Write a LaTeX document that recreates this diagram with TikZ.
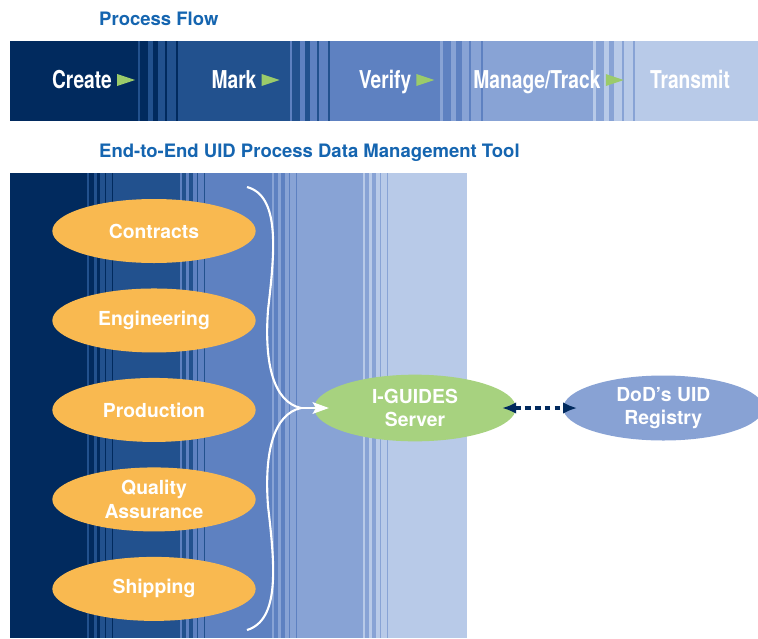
\documentclass[tikz,border=0pt]{standalone}
\usepackage{fontspec}
\setmainfont{TeX Gyre Heros}
\newfontfamily\condfont[FakeStretch=0.78]{TeX Gyre Heros}
\usepackage{tikz}
\usetikzlibrary{arrows, arrows.meta}
\usetikzlibrary{shapes.geometric, positioning}
\definecolor{navy}{HTML}{012A5E}
\definecolor{bandb}{HTML}{22518E}
\definecolor{bandc}{HTML}{5E81C1}
\definecolor{bandd}{HTML}{88A3D5}
\definecolor{bande}{HTML}{B8CAE8}
\definecolor{deptorange}{HTML}{F9B950}
\definecolor{srvgreen}{HTML}{A7D27F}
\definecolor{regblue}{HTML}{88A2D4}
\definecolor{titleblue}{HTML}{1565B0}
\definecolor{flowgreen}{HTML}{9BCB6A}
\tikzstyle{title} = [anchor=west, inner sep=0pt, text=titleblue, font=\fontsize{15.8}{18}\selectfont\bfseries]
\tikzstyle{flowlabel} = [inner sep=0pt, text height=15pt, text depth=0pt, text=white, font=\condfont\fontsize{21}{24}\selectfont\bfseries]
\tikzstyle{deptnode} = [ellipse, fill=deptorange, inner sep=0pt, minimum width=6.1cm, minimum height=1.92cm, align=center, text=white, font=\fontsize{16.5}{20}\selectfont\bfseries]
\tikzstyle{srvnode} = [ellipse, fill=srvgreen, inner sep=0pt, minimum width=6.05cm, minimum height=2cm, align=center, text=white, font=\fontsize{16.5}{20}\selectfont\bfseries]
\tikzstyle{regnode} = [ellipse, fill=regblue, inner sep=0pt, minimum width=6cm, minimum height=1.95cm, align=center, text=white, font=\fontsize{16.5}{20}\selectfont\bfseries]
\tikzstyle{brace} = [white, line width=1.8pt]
\tikzstyle{arrow} = [brace, -{Stealth[length=14pt, width=10pt, inset=3pt]}]
\tikzstyle{link} = [navy, line width=2.6pt, dash pattern=on 5pt off 3.5pt, {Latex[length=12pt, width=10pt]}-{Latex[length=12pt, width=10pt]}]
\newcommand{\stripezone}[6]{
  \fill[#5] (#1,#3) rectangle ({#1+#2},#4);
  \foreach \a/\b in {0/0.06, 0.25/0.37, 0.5/0.68, 0.73/0.95}
    \fill[#6] ({#1+\a*#2},#3) rectangle ({#1+\b*#2},#4);
}

\begin{document}
\begin{tikzpicture}[x=0.03cm, y=-0.03cm]
\useasboundingbox (0,0) rectangle (758,638);

\fill[navy] (10,41) rectangle (138,121);
\stripezone{138}{40}{41}{121}{navy}{bandb}
\fill[bandb] (178,41) rectangle (290,121);
\stripezone{290}{40}{41}{121}{bandb}{bandc}
\fill[bandc] (330,41) rectangle (440,121);
\stripezone{440}{43}{41}{121}{bandc}{bandd}
\fill[bandd] (483,41) rectangle (593,121);
\stripezone{593}{42}{41}{121}{bandd}{bande}
\fill[bande] (635,41) rectangle (758,121);

\fill[navy] (10,173) rectangle (87,638);
\stripezone{87}{26}{173}{638}{navy}{bandb}
\fill[bandb] (113,173) rectangle (180,638);
\stripezone{180}{25}{173}{638}{bandb}{bandc}
\fill[bandc] (205,173) rectangle (272,638);
\stripezone{272}{25}{173}{638}{bandc}{bandd}
\fill[bandd] (297,173) rectangle (363,638);
\stripezone{363}{25}{173}{638}{bandd}{bande}
\fill[bande] (388,173) rectangle (467,638);

\node [title] (flowtitle) at (99,19) {Process Flow};
\node [title] (tooltitle) at (99,153) {End-to-End UID Process Data Management Tool};

\node [flowlabel] (create) at (82,80) {Create};
\node [flowlabel] (mark) at (234,80) {Mark};
\node [flowlabel] (verify) at (385,80) {Verify};
\node [flowlabel] (track) at (537,80) {Manage/Track};
\node [flowlabel] (transmit) at (690,80) {Transmit};
\foreach \n in {create, mark, verify, track}
  \fill[flowgreen] (\n.east) ++(5,-6) -- ++(18,6) -- ++(-18,6) -- cycle;

\node [deptnode] (contracts) at (154,231) {Contracts};
\node [deptnode] (engineering) [below=0.75cm of contracts] {Engineering};
\node [deptnode] (production) [below=0.75cm of engineering] {Production};
\node [deptnode] (quality) [below=0.75cm of production] {Quality\\Assurance};
\node [deptnode] (shipping) [below=0.75cm of quality] {Shipping};

\node [srvnode] (server) at (415,408) {I-GUIDES\\Server};
\node [regnode] (registry) [right=1.41cm of server] {DoD’s UID\\Registry};

\coordinate (bracetop) at (247,187);
\coordinate (bracetip) at (301,408);
\coordinate (bracebot) at (247,630);
\draw [brace] (bracetop) .. controls (280,196) and (275,250) .. (268,310) .. controls (264,365) and (274,402) .. (bracetip);
\draw [brace] (bracetip) .. controls (274,414) and (264,451) .. (268,506) .. controls (275,566) and (280,620) .. (bracebot);
\draw [arrow, shorten >=-0.45cm] (bracetip) -- (server.west);

\draw [link, shorten <=-0.42cm, shorten >=-0.42cm] (server) -- (registry);
\end{tikzpicture}
\end{document}
